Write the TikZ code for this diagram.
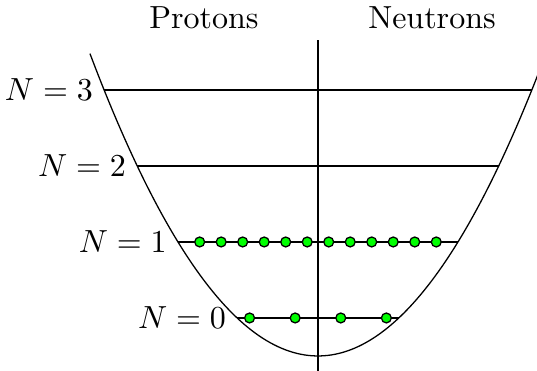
\documentclass[tikz,border=0pt]{standalone}
\usepackage{tikz}

\begin{document}
\begin{tikzpicture}[
    x=0.835cm, y=0.835cm,
    nucleon/.style={circle, draw, fill=green, inner sep=0pt, minimum size=3.1pt},
    lvl/.style={anchor=east}
  ]
  \useasboundingbox (-4.184,-0.197) rectangle (2.882,4.684);
  \node (prot) at (-1.5,4.447) {Protons};
  \node (neut) at (1.5,4.447) {Neutrons};
  \draw (0,-0.25) -- (0,4.16);
  \draw[domain=-3:3, samples=120] plot (\x, {0.442*\x*\x});
  % shells
  \foreach \n in {0,...,3} {
    \pgfmathsetmacro\w{sqrt((\n+0.5)/0.442)}
    \draw (-\w,\n+0.5) -- (\w,\n+0.5);
    \node[lvl] (lbl\n) at (-\w,\n+0.5) {$N=\n$};
  }
  \foreach \i in {0,...,3}
    \node[nucleon] (s\i) at ({(\i-1.5)*0.6},0.5) {};
  \foreach \i in {0,...,11}
    \node[nucleon] (p\i) at ({(\i-5.5)*0.283},1.5) {};
\end{tikzpicture}
\end{document}
